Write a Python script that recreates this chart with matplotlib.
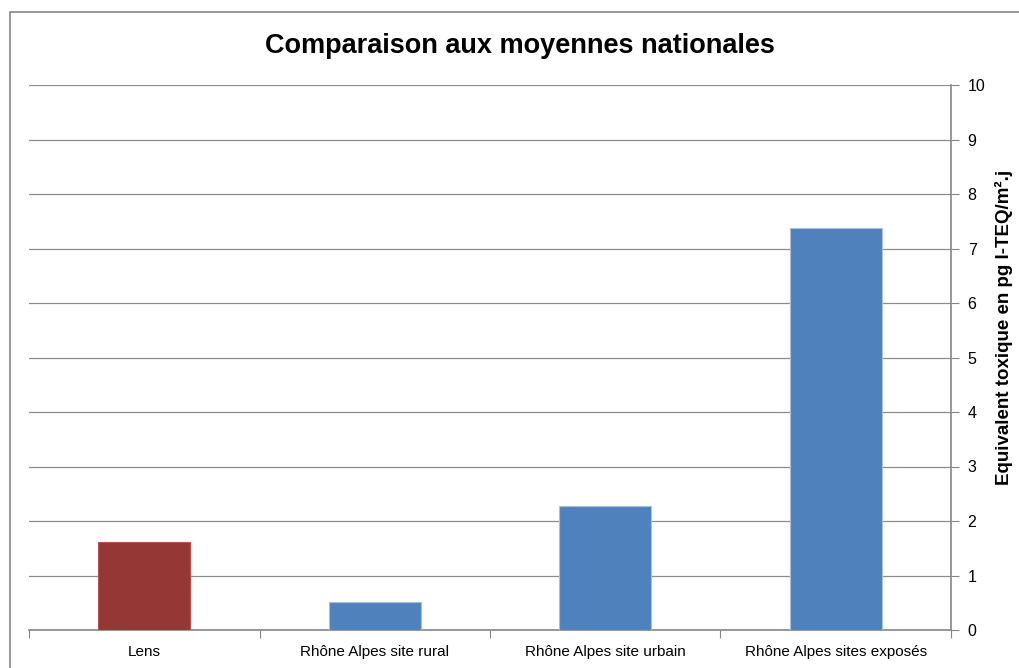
import matplotlib.pyplot as plt
from matplotlib.patches import Rectangle

plt.rcParams['font.family'] = ['Liberation Sans', 'DejaVu Sans']

# valeurs en pg I-TEQ/m².j
sites = ['Lens', 'Rhône Alpes site rural', 'Rhône Alpes site urbain', 'Rhône Alpes sites exposés']
valeurs = [1.61, 0.51, 2.28, 7.38]
couleurs = ['#953735', '#4F81BD', '#4F81BD', '#4F81BD']
bords = ['#C0504D', '#A7C0DE', '#A7C0DE', '#A7C0DE']

fig = plt.figure(figsize=(10.19, 6.68), dpi=100)
ax = fig.add_axes([29 / 1019, 38 / 668, 922 / 1019, 545 / 668])

# cadre extérieur du graphique
fig.patches.append(Rectangle((10 / 1019, -0.1), 1.2, 1.1 - 12 / 668, transform=fig.transFigure,
                             fill=False, edgecolor='#868686', linewidth=1.2))

x = range(len(sites))
ax.bar(x, valeurs, width=0.40, color=couleurs, edgecolor=bords, linewidth=0.8, zorder=3)

ax.set_xlim(-0.5, len(sites) - 0.5)
ax.set_ylim(0, 10)
ax.set_yticks(range(0, 11))
ax.yaxis.tick_right()
ax.grid(axis='y', color='#8C8C8C', linewidth=0.9, zorder=0)

# graduations de catégorie entre les barres
ax.set_xticks([i - 0.5 for i in range(len(sites) + 1)], minor=False)
ax.set_xticklabels([''] * (len(sites) + 1))
ax.set_xticks(list(x), minor=True)
ax.set_xticklabels(sites, minor=True, fontsize=11)
ax.tick_params(axis='x', which='major', length=6, color='#868686', direction='out')
ax.tick_params(axis='x', which='minor', length=0, pad=11)
ax.tick_params(axis='y', length=6, color='#868686', labelsize=11.5, pad=6)

for side in ['left', 'top']:
    ax.spines[side].set_visible(False)
for side in ['right', 'bottom']:
    ax.spines[side].set_color('#868686')
    ax.spines[side].set_linewidth(1.2)

fig.text(1004 / 1019, 1 - 327 / 668, 'Equivalent toxique en pg I-TEQ/m².j', ha='center', va='center',
         rotation=90, fontsize=13.5, fontweight='bold')

fig.text(520 / 1019, 1 - 46 / 668, 'Comparaison aux moyennes nationales', ha='center', va='center',
         fontsize=19.5, fontweight='bold')

fig.savefig('out.png', dpi=100)
